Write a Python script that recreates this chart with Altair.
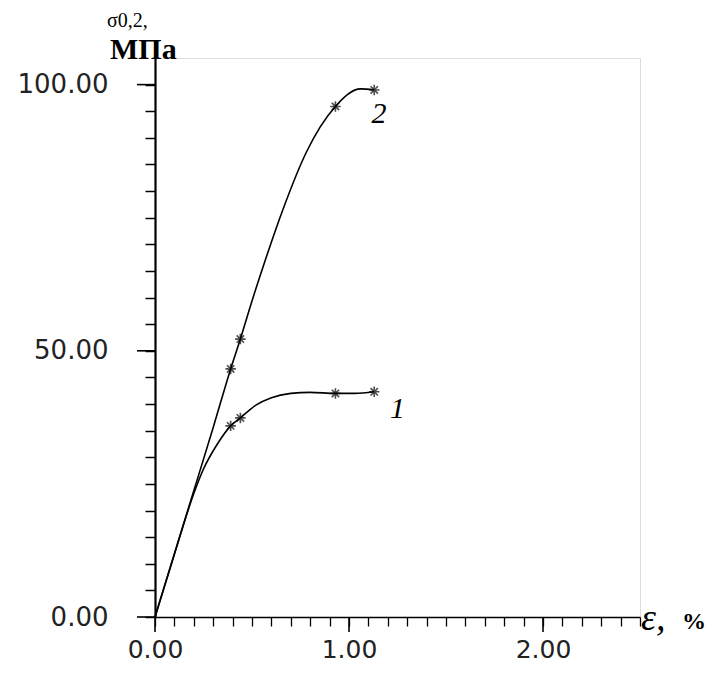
import altair as alt
import pandas as pd

# ---- data ----
# curve 1 trace (strain %, stress MPa)
c1_x = [0.0, 0.10, 0.20, 0.25, 0.32, 0.39, 0.44, 0.52, 0.60, 0.70, 0.80, 0.93, 1.03, 1.13]
c1_y = [0.0, 11.8, 23.2, 27.8, 32.4, 35.9, 37.4, 39.8, 41.2, 42.0, 42.2, 42.0, 42.0, 42.3]
# curve 2 trace
c2_x = [0.0, 0.10, 0.20, 0.30, 0.39, 0.44, 0.49, 0.57, 0.66, 0.78, 0.93, 1.06, 1.13]
c2_y = [0.0, 11.9, 23.7, 35.6, 46.6, 52.2, 58.2, 67.2, 76.6, 87.3, 95.9, 99.2, 99.0]
# asterisk markers
m1_x = [0.39, 0.44, 0.93, 1.13]
m1_y = [35.9, 37.4, 42.0, 42.3]
m2_x = [0.39, 0.44, 0.93, 1.13]
m2_y = [46.6, 52.2, 95.9, 99.0]
# curve labels
lab_txt = ["1", "2"]
lab_x = [1.25, 1.155]
lab_y = [39.0, 94.5]
# axis ticks
y_ticks = [i * 5 for i in range(21)]
y_major = [0, 50, 100]
x_ticks = [round(i * 0.1, 1) for i in range(26)]
x_major = [0, 1, 2]

W, H = 485, 559
xs = alt.Scale(domain=[0, 2.5], nice=False, zero=False)
ys = alt.Scale(domain=[0, 105], nice=False, zero=False)

curves = pd.DataFrame(
    {"x": c1_x + c2_x, "y": c1_y + c2_y,
     "s": ["1"] * len(c1_x) + ["2"] * len(c2_x)}
)
marks = pd.DataFrame(
    {"x": m1_x + m2_x, "y": m1_y + m2_y,
     "s": ["1"] * len(m1_x) + ["2"] * len(m2_x)}
)
labels = pd.DataFrame({"t": lab_txt, "x": lab_x, "y": lab_y})
ymaj = pd.DataFrame({"v": y_major})
xmaj = pd.DataFrame({"v": x_major})

lines = alt.Chart(curves).mark_line(
    color="black", strokeWidth=1.6, interpolate="monotone"
).encode(
    x=alt.X("x:Q", scale=xs, axis=alt.Axis(
        values=x_ticks, tickCount=60, title=None, grid=False,
        labelExpr="datum.value % 1 == 0 ? format(datum.value, '.2f') : ''",
        tickSize=9, tickWidth=1.3, tickColor="black",
        domainColor="black", domainWidth=1.5,
        labelFont="DejaVu Sans", labelFontSize=25, labelColor="#222",
        labelPadding=11, labelFlush=False, labelOverlap=False,
    )),
    y=alt.Y("y:Q", scale=ys, axis=alt.Axis(
        values=y_ticks, tickCount=60, title=None, grid=False,
        labelExpr="datum.value % 50 == 0 ? format(datum.value, '.2f') : ''",
        tickSize=10, tickWidth=1.5, tickColor="black",
        domainColor="black", domainWidth=2.2,
        labelFont="DejaVu Sans", labelFontSize=26, labelColor="#222",
        labelPadding=37, labelFlush=False, labelOverlap=False,
    )),
    detail="s:N",
)

asterisk = "M-1,0L1,0M0,-1L0,1M-0.7,-0.7L0.7,0.7M-0.7,0.7L0.7,-0.7"
points = alt.Chart(marks).mark_point(
    shape=asterisk, filled=False, color="black", size=110, strokeWidth=1.6
).encode(x=alt.X("x:Q", scale=xs), y=alt.Y("y:Q", scale=ys))

curve_labels = alt.Chart(labels).mark_text(
    font="Liberation Serif", fontStyle="italic", fontSize=30, color="black",
    align="center", baseline="middle"
).encode(x=alt.X("x:Q", scale=xs), y=alt.Y("y:Q", scale=ys), text="t:N")

ymaj_rules = alt.Chart(ymaj).mark_rule(color="black", strokeWidth=1.6).encode(
    y=alt.Y("v:Q", scale=ys), x=alt.value(-18), x2=alt.value(0)
)
xmaj_rules = alt.Chart(xmaj).mark_rule(color="black", strokeWidth=1.6).encode(
    x=alt.X("v:Q", scale=xs), y=alt.value(H), y2=alt.value(H + 15)
)

sigma = alt.Chart(pd.DataFrame({"t": ["σ0,2,"]})).mark_text(
    font="Liberation Serif", fontSize=20, align="left", baseline="alphabetic", color="black"
).encode(x=alt.value(-48), y=alt.value(-31), text="t:N")
mpa = alt.Chart(pd.DataFrame({"t": ["МПа"]})).mark_text(
    font="Liberation Serif", fontSize=30, fontWeight="bold", align="left",
    baseline="alphabetic", color="black"
).encode(x=alt.value(-45), y=alt.value(1), text="t:N")
eps = alt.Chart(pd.DataFrame({"t": ["ε,"]})).mark_text(
    font="Liberation Serif", fontSize=38, fontStyle="italic", align="left",
    baseline="alphabetic", color="black"
).encode(x=alt.value(W + 1), y=alt.value(H + 13), text="t:N")
pct = alt.Chart(pd.DataFrame({"t": ["%"]})).mark_text(
    font="Liberation Serif", fontSize=24, fontWeight="bold", align="left",
    baseline="alphabetic", color="black"
).encode(x=alt.value(W + 42), y=alt.value(H + 12), text="t:N")

chart = alt.layer(
    lines, points, curve_labels, ymaj_rules, xmaj_rules, sigma, mpa, eps, pct
).properties(
    width=W, height=H,
    padding={"left": 147, "top": 50, "right": 67, "bottom": 48},
    autosize=alt.AutoSizeParams(type="none"),
).configure_view(stroke=None).configure(background="white")

chart.save("out.html", embed_options={"renderer": "svg", "actions": False})
